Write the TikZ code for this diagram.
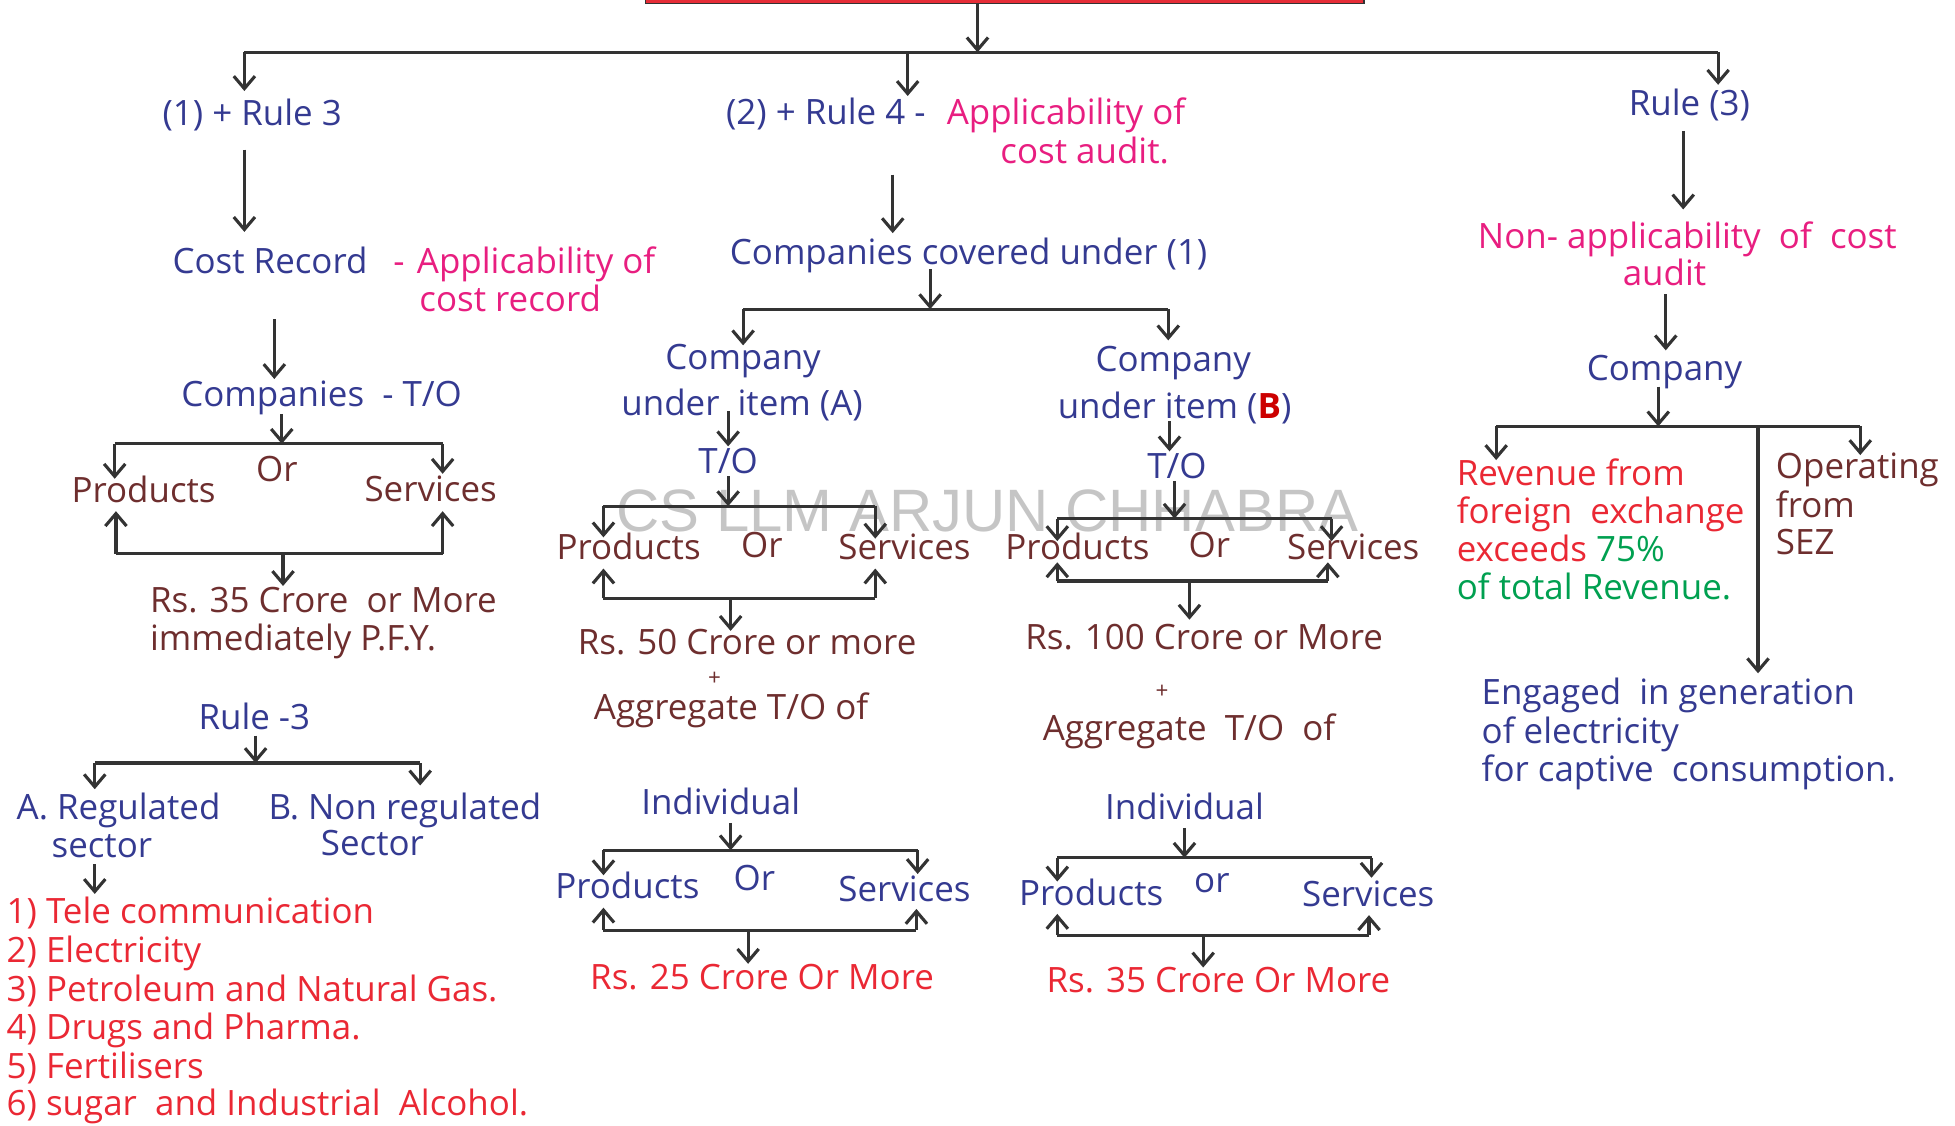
\documentclass[tikz,border=0pt]{standalone}
\usepackage{fontspec}
\setmainfont{Open Sans}
\newfontfamily\wmfont{Liberation Sans}
\usetikzlibrary{arrows.meta}
\definecolor{lc}{RGB}{51,51,51}
\definecolor{bl}{RGB}{52,58,145}
\definecolor{pk}{RGB}{232,30,128}
\definecolor{br}{RGB}{110,46,46}
\definecolor{rd}{RGB}{234,40,52}
\definecolor{gr}{RGB}{0,160,80}
\definecolor{boxred}{RGB}{230,45,55}
\newcommand{\fsz}{\fontsize{14}{17}\selectfont}
\begin{document}
\begin{tikzpicture}[x=0.5pt,y=-0.5pt,
  ln/.style={draw=lc, line width=1.25pt},
  ar/.style={ln, -{Straight Barb[length=5pt,width=8.5pt,line width=1.25pt]}},
  tx/.style={inner sep=0pt, anchor=base west, font=\fsz},
  tcb/.style={inner sep=0pt, anchor=base, font=\fsz}]
\useasboundingbox (0,0) rectangle (1568,903);

% watermark
\node[inner sep=0pt, anchor=base, font=\wmfont\fontsize{24}{28}\selectfont, text=black!45, opacity=0.5] (wm) at (792,426) {CS LLM ARJUN CHHABRA};

% top box
\node (top) [fill=boxred, draw=lc, line width=0.5pt, minimum width=288pt, minimum height=20pt, anchor=south, inner sep=0pt] at (806,3.5) {};

% ---------- texts ----------
\node[tx,text=bl] (r13) at (130,101) {(1) + Rule 3};
\node[tx,text=bl] (r24) at (582,100) {(2) + Rule 4 -};
\node[tx,text=pk] (r24p) at (759,100) {Applicability of};
\node[tx,text=pk] (r24b) at (802,131) {cost audit.};
\node[tx,text=bl] (rule3) at (1306,93) {Rule (3)};

\node[tx,text=bl] (cr) at (138,219) {Cost Record};
\node[tx,text=pk] (crd) at (315,219) {-};
\node[tx,text=pk] (crp) at (334,219) {Applicability of};
\node[tx,text=pk] (crb) at (336,250) {cost record};

\node[tx,text=bl] (ccu) at (585,212) {Companies covered under (1)};
\node[tx,text=pk] (nonap) at (1185,199) {Non- applicability\ \ of\ \ cost};
\node[tcb,text=pk] (nonapb) at (1335,229) {audit};
\node[tcb,text=bl] (compR) at (1335,305) {Company};

\node[tx,text=bl] (cto) at (145,326) {Companies\ \ - T/O};
\node[tcb,text=br] (orL) at (222,386) {Or};
\node[tx,text=br] (prodL) at (57,403) {Products};
\node[tx,text=br] (servL) at (292,402) {Services};
\node[tx,text=br] (rs35) at (120,491) {Rs. 35 Crore\ \ or More};
\node[tx,text=br] (pfy) at (120,522) {immediately P.F.Y.};

\node[tcb,text=bl] (rulem3) at (204,585) {Rule -3};
\node[tx,text=bl] (regA) at (13,657) {A. Regulated};
\node[tx,text=bl] (regAb) at (41,688) {sector};
\node[tx,text=bl] (regB) at (215,657) {B. Non regulated};
\node[tx,text=bl] (regBb) at (257,686) {Sector};
\node[tx,text=rd] (l1) at (5,741) {1) Tele communication};
\node[tx,text=rd] (l2) at (5,772) {2) Electricity};
\node[tx,text=rd] (l3) at (5,803) {3) Petroleum and Natural Gas.};
\node[tx,text=rd] (l4) at (5,834) {4) Drugs and Pharma.};
\node[tx,text=rd] (l5) at (5,865) {5) Fertilisers};
\node[tx,text=rd] (l6) at (5,895) {6) sugar\ \ and Industrial\ \ Alcohol.};

% item A
\node[tcb,text=bl] (compA) at (596,296) {Company};
\node[tx,text=bl] (itemA) at (498,333) {under\ \ item (A)};
\node[tcb,text=bl] (toA) at (584,380) {T/O};
\node[tx,text=br] (prodA) at (446,449) {Products};
\node[tcb,text=br] (orA) at (611,447) {Or};
\node[tx,text=br] (servA) at (672,449) {Services};
\node[tx,text=br] (rs50) at (463,525) {Rs. 50 Crore or more};
\node[tcb,text=br,font=\fontsize{9}{10}\selectfont] (plA) at (573,550) {+};
\node[tx,text=br] (aggA) at (476,577) {Aggregate T/O of};
\node[tcb,text=bl] (indA) at (578,653) {Individual};
\node[tx,text=bl] (prodA2) at (445,721) {Products};
\node[tcb,text=bl] (orA2) at (605,714) {Or};
\node[tx,text=bl] (servA2) at (672,723) {Services};
\node[tx,text=rd] (rs25) at (473,794) {Rs. 25 Crore Or More};

% item B
\node[tcb,text=bl] (compB) at (941,298) {Company};
\node[tx,text=bl] (itemB) at (848,336) {under item (\textcolor{red!80!black}{\textbf{B}})};
\node[tcb,text=bl] (toB) at (944,384) {T/O};
\node[tx,text=br] (prodB) at (806,449) {Products};
\node[tcb,text=br] (orB) at (970,447) {Or};
\node[tx,text=br] (servB) at (1032,449) {Services};
\node[tx,text=br] (rs100) at (822,521) {Rs. 100 Crore or More};
\node[tcb,text=br,font=\fontsize{9}{10}\selectfont] (plB) at (932,560) {+};
\node[tx,text=br] (aggB) at (836,594) {Aggregate\ \ T/O\ \ of};
\node[tcb,text=bl] (indB) at (950,657) {Individual};
\node[tx,text=bl] (prodB2) at (817,726) {Products};
\node[tcb,text=bl] (orB2) at (972,716) {or};
\node[tx,text=bl] (servB2) at (1044,727) {Services};
\node[tx,text=rd] (rs35b) at (839,796) {Rs. 35 Crore Or More};

% right
\node[tx,text=rd] (rev1) at (1168,389) {Revenue from};
\node[tx,text=rd] (rev2) at (1168,420) {foreign\ \ exchange};
\node[tx,text=rd] (rev3) at (1168,450) {exceeds \textcolor{gr}{75\%}};
\node[tx,text=gr] (rev4) at (1168,481) {of total Revenue.};
\node[tx,text=br] (op1) at (1424,384) {Operating};
\node[tx,text=br] (op2) at (1424,415) {from};
\node[tx,text=br] (op3) at (1424,445) {SEZ};
\node[tx,text=bl] (eng1) at (1188,565) {Engaged\ \ in generation};
\node[tx,text=bl] (eng2) at (1188,596) {of electricity};
\node[tx,text=bl] (eng3) at (1188,627) {for captive\ \ consumption.};

% ---------- coordinates ----------
\coordinate (j0) at (784,42);
\coordinate (jl) at (196,42);
\coordinate (jm) at (728,42);
\coordinate (jr) at (1378,42);

% ---------- connectors ----------
\draw[ar] (top.south -| j0) -- (j0);
\draw[ln] (jl) -- (jr);
\draw[ar] (jl) -- (196,73) coordinate (r13t);
\draw[ar] (jm) -- (728,77) coordinate (r24t);
\draw[ar] (jr) -- (1378,68) coordinate (r3t);

% left column
\draw[ar] (196,120) coordinate (r13s) -- (196,186) coordinate (crt);
\draw[ar] (220,256) coordinate (crs) -- (220,304) coordinate (ctot);
\coordinate (jL1) at (226,356);
\draw[ar] (226,332) coordinate (ctos) -- (jL1);
\coordinate (jL1a) at (92,356);
\coordinate (jL1b) at (355,356);
\draw[ln] (jL1a) -- (jL1b);
\draw[ar] (jL1a) -- (92,384) coordinate (prodLt);
\draw[ar] (jL1b) -- (355,380) coordinate (servLt);
\coordinate (jL2a) at (93,444);
\coordinate (jL2b) at (355,444);
\coordinate (jL2) at (227,444);
\draw[ln] (jL2a) -- (jL2b);
\draw[ar] (jL2a) -- (93,410) coordinate (prodLb);
\draw[ar] (jL2b) -- (355,410) coordinate (servLb);
\draw[ar] (jL2) -- (227,470) coordinate (rs35t);

\coordinate (jR3) at (205,612);
\draw[ar] (205,590) coordinate (rulem3s) -- (jR3);
\coordinate (jR3a) at (76,612);
\coordinate (jR3b) at (337,612);
\draw[ln] (jR3a) -- (jR3b);
\draw[ar] (jR3a) -- (76,633) coordinate (regAt);
\draw[ar] (jR3b) -- (337,630) coordinate (regBt);
\draw[ar] (76,693) coordinate (regAs) -- (76,717) coordinate (l1t);

% middle column
\draw[ar] (716,140) coordinate (r24s) -- (716,187) coordinate (ccut);
\coordinate (jM) at (746,248);
\draw[ar] (746,216) coordinate (ccus) -- (jM);
\coordinate (jMa) at (596,248);
\coordinate (jMb) at (937,248);
\draw[ln] (jMa) -- (jMb);
\draw[ar] (jMa) -- (596,277) coordinate (compAt);
\draw[ar] (jMb) -- (937,273) coordinate (compBt);

% item A
\draw[ar] (584,330) coordinate (itemAs) -- (584,358) coordinate (toAt);
\coordinate (jA1) at (584,406);
\draw[ar] (584,382) coordinate (toAs) -- (jA1);
\coordinate (jA1a) at (484,406);
\coordinate (jA1b) at (702,406);
\draw[ln] (jA1a) -- (jA1b);
\draw[ar] (jA1a) -- (484,431) coordinate (prodAt);
\draw[ar] (jA1b) -- (702,432) coordinate (servAt);
\coordinate (jA2a) at (484,480);
\coordinate (jA2b) at (702,480);
\coordinate (jA2) at (586,480);
\draw[ln] (jA2a) -- (jA2b);
\draw[ar] (jA2a) -- (484,456) coordinate (prodAb);
\draw[ar] (jA2b) -- (702,456) coordinate (servAb);
\draw[ar] (jA2) -- (586,506) coordinate (rs50t);

\coordinate (jA3) at (586,682);
\draw[ar] (586,660) coordinate (indAs) -- (jA3);
\coordinate (jA3a) at (484,682);
\coordinate (jA3b) at (736,682);
\draw[ln] (jA3a) -- (jA3b);
\draw[ar] (jA3a) -- (484,702) coordinate (prodA2t);
\draw[ar] (jA3b) -- (736,701) coordinate (servA2t);
\coordinate (jA4a) at (484,746);
\coordinate (jA4b) at (735,746);
\coordinate (jA4) at (600,746);
\draw[ln] (jA4a) -- (jA4b);
\draw[ar] (jA4a) -- (484,728) coordinate (prodA2b);
\draw[ar] (jA4b) -- (735,729) coordinate (servA2b);
\draw[ar] (jA4) -- (600,773) coordinate (rs25t);

% item B
\draw[ar] (938,338) coordinate (itemBs) -- (938,362) coordinate (toBt);
\coordinate (jB1) at (942,416);
\draw[ar] (942,386) coordinate (toBs) -- (jB1);
\coordinate (jB1a) at (848,416);
\coordinate (jB1b) at (1068,416);
\draw[ln] (jB1a) -- (jB1b);
\draw[ar] (jB1a) -- (848,434) coordinate (prodBt);
\draw[ar] (jB1b) -- (1068,434) coordinate (servBt);
\coordinate (jB2a) at (848,466);
\coordinate (jB2b) at (1065,466);
\coordinate (jB2) at (954,466);
\draw[ln] (jB2a) -- (jB2b);
\draw[ar] (jB2a) -- (848,451) coordinate (prodBb);
\draw[ar] (jB2b) -- (1065,451) coordinate (servBb);
\draw[ar] (jB2) -- (954,497) coordinate (rs100t);

\coordinate (jB3) at (950,688);
\draw[ar] (950,664) coordinate (indBs) -- (jB3);
\coordinate (jB3a) at (848,688);
\coordinate (jB3b) at (1100,688);
\draw[ln] (jB3a) -- (jB3b);
\draw[ar] (jB3a) -- (848,707) coordinate (prodB2t);
\draw[ar] (jB3b) -- (1100,704) coordinate (servB2t);
\coordinate (jB4a) at (848,750);
\coordinate (jB4b) at (1098,750);
\coordinate (jB4) at (965,750);
\draw[ln] (jB4a) -- (jB4b);
\draw[ar] (jB4a) -- (848,733) coordinate (prodB2b);
\draw[ar] (jB4b) -- (1098,734) coordinate (servB2b);
\draw[ar] (jB4) -- (965,776) coordinate (rs35bt);

% right column
\draw[ar] (1350,105) coordinate (rule3s) -- (1350,168) coordinate (nonapt);
\draw[ar] (1336,236) coordinate (nonaps) -- (1336,281) coordinate (compRt);
\coordinate (jR) at (1330,342);
\draw[ar] (1330,310) coordinate (compRs) -- (jR);
\coordinate (jRa) at (1200,342);
\coordinate (jRb) at (1492,342);
\coordinate (jRc) at (1410,342);
\draw[ln] (jRa) -- (jRb);
\draw[ar] (jRa) -- (1200,369) coordinate (rev1t);
\draw[ar] (jRb) -- (1492,365) coordinate (op1t);
\draw[ar] (jRc) -- (1410,540) coordinate (eng1t);
\end{tikzpicture}
\end{document}
